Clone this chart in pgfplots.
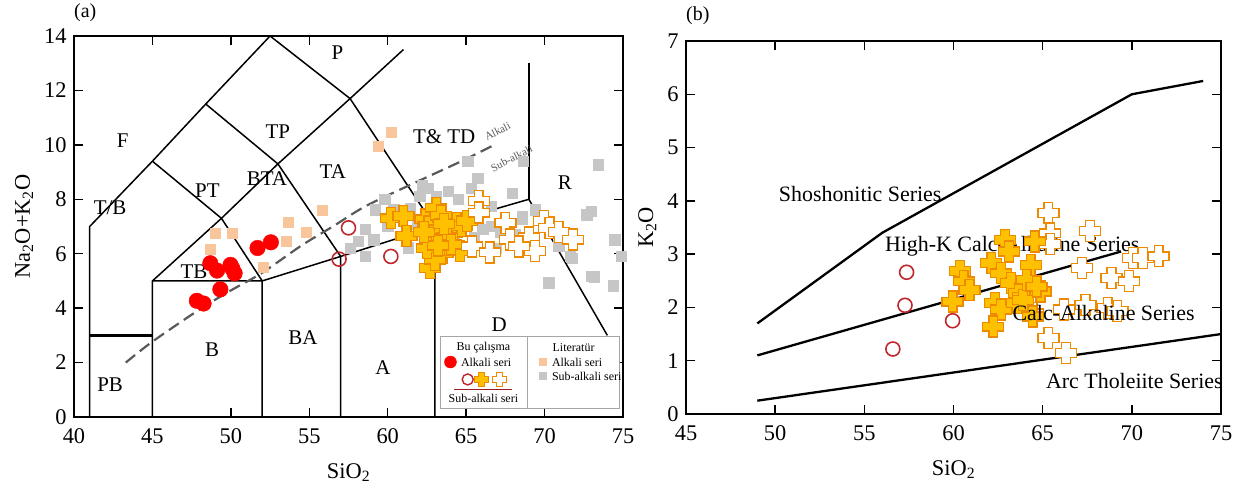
\documentclass[border=0pt]{standalone}
\usepackage{fontspec}
\setmainfont{Liberation Serif}
\usepackage{pgfplots}
\pgfplotsset{compat=1.18}

\definecolor{redfill}{HTML}{FF0000}
\definecolor{darkred}{HTML}{C0262D}
\definecolor{peach}{HTML}{F8C69A}
\definecolor{lgray}{HTML}{C6C6C6}
\definecolor{gold}{HTML}{FFC000}
\definecolor{orng}{HTML}{EE8A00}
\definecolor{dashgray}{HTML}{595959}

\pgfdeclareplotmark{rplus}{%
  \pgfsetcornersarced{\pgfpoint{0.27\pgfplotmarksize}{0.27\pgfplotmarksize}}%
  \pgfpathmoveto{\pgfqpoint{\pgfplotmarksize}{0pt}}%
  \pgfpathlineto{\pgfqpoint{\pgfplotmarksize}{0.42\pgfplotmarksize}}%
  \pgfpathlineto{\pgfqpoint{0.42\pgfplotmarksize}{0.42\pgfplotmarksize}}%
  \pgfpathlineto{\pgfqpoint{0.42\pgfplotmarksize}{\pgfplotmarksize}}%
  \pgfpathlineto{\pgfqpoint{-0.42\pgfplotmarksize}{\pgfplotmarksize}}%
  \pgfpathlineto{\pgfqpoint{-0.42\pgfplotmarksize}{0.42\pgfplotmarksize}}%
  \pgfpathlineto{\pgfqpoint{-\pgfplotmarksize}{0.42\pgfplotmarksize}}%
  \pgfpathlineto{\pgfqpoint{-\pgfplotmarksize}{-0.42\pgfplotmarksize}}%
  \pgfpathlineto{\pgfqpoint{-0.42\pgfplotmarksize}{-0.42\pgfplotmarksize}}%
  \pgfpathlineto{\pgfqpoint{-0.42\pgfplotmarksize}{-\pgfplotmarksize}}%
  \pgfpathlineto{\pgfqpoint{0.42\pgfplotmarksize}{-\pgfplotmarksize}}%
  \pgfpathlineto{\pgfqpoint{0.42\pgfplotmarksize}{-0.42\pgfplotmarksize}}%
  \pgfpathlineto{\pgfqpoint{\pgfplotmarksize}{-0.42\pgfplotmarksize}}%
  \pgfpathclose
  \pgfusepathqfillstroke
}

\pgfplotsset{
  myaxis/.style={
    scale only axis,
    tick align=inside, major tick length=9bp,
    every tick/.style={black,line width=1.5bp},
    axis line style={line width=1.8bp},
    ticklabel style={font=\fontsize{22.5}{25}\selectfont},
    /pgf/number format/assume math mode=true,
    xticklabel style={yshift=-8bp}, yticklabel style={xshift=-4bp},
    label style={font=\fontsize{22.5}{25}\selectfont},
    xlabel style={yshift=-13bp},
    ylabel style={yshift=4bp},
    clip mode=individual,
  },
  gsq/.style={only marks, mark=square*, mark size=5.2bp, mark options={fill=lgray, draw=lgray}},
  psq/.style={only marks, mark=square*, mark size=5bp, mark options={fill=peach, draw=peach}},
  rdot/.style={only marks, mark=*, mark size=7.8bp, mark options={fill=redfill, draw=redfill}},
  ocirc/.style={only marks, mark=o, mark size=7bp, mark options={draw=darkred, line width=1.6bp, fill=white}},
  fcross/.style={only marks, mark=rplus, mark size=10.5bp, mark options={fill=gold, draw=orng, line width=1.3bp}},
  ocross/.style={only marks, mark=rplus, mark size=10.5bp, mark options={fill=white, draw=orng, line width=1.3bp}},
  tas/.style={black, line width=1.5bp, no marks},
  pt/.style={black, line width=2.3bp, no marks},
}

\begin{document}
\begin{tikzpicture}
\useasboundingbox (0,0) rectangle (1256bp,496bp);

% ---------------- (a) TAS ----------------
\begin{axis}[myaxis,
  at={(74bp,79bp)}, anchor=south west, width=549bp, height=381bp,
  xmin=40, xmax=75, ymin=0, ymax=14,
  xtick={40,45,...,75}, ytick={0,2,...,14},
  xlabel={SiO\textsubscript{2}}, ylabel={Na\textsubscript{2}O+K\textsubscript{2}O},
]
% field boundaries
\addplot[tas] coordinates {(41,0) (41,7) (45,9.4) (48.4,11.5) (52.5,14)};
\addplot[tas] coordinates {(52.5,14) (57.6,11.7) (63,7) (69,8) (74,3)};
\addplot[tas] coordinates {(57.6,11.7) (61,13.5)};
\addplot[tas] coordinates {(69,8) (69,13)};
\addplot[tas] coordinates {(45,0) (45,5) (49.4,7.3) (53,9.3) (57.6,11.7)};
\addplot[tas] coordinates {(45,9.4) (49.4,7.3) (52,5) (52,0)};
\addplot[tas] coordinates {(48.4,11.5) (53,9.3) (57,5.9) (57,0)};
\addplot[tas] coordinates {(45,5) (52,5) (57,5.9) (63,7) (63,0)};
\addplot[black, line width=3bp, no marks] coordinates {(41,3) (45,3)};
% alkaline / subalkaline
\addplot[dashgray, line width=2.2bp, dash pattern=on 12bp off 6bp, smooth, no marks] coordinates {
 (43.3,2.0) (45,2.77) (48,3.95) (50,4.65) (52,5.3) (54.5,6.3) (56.5,7.0) (58.6,7.75) (61.7,8.6) (64.7,9.4) (66.8,10.0)};
\node[rotate=27, text=dashgray, font=\fontsize{11}{12}\selectfont, inner sep=1pt] at (axis cs:67.0,10.5) {Alkali};
\node[rotate=27, text=dashgray, font=\fontsize{11}{12}\selectfont, inner sep=1pt] at (axis cs:67.9,9.5) {Sub-alkali};

% field names
\begin{scope}[every node/.style={font=\fontsize{21}{24}\selectfont}]
\node at (axis cs:43.1,10.16) {F};
\node at (axis cs:48.5,8.33) {PT};
\node at (axis cs:53.0,10.5) {TP};
\node at (axis cs:56.8,13.4) {P};
\node at (axis cs:63.6,10.3) {T\& TD};
\node at (axis cs:56.5,9.0) {TA};
\node at (axis cs:52.3,8.77) {BTA};
\node at (axis cs:42.3,7.68) {T/B};
\node at (axis cs:47.65,5.34) {TB};
\node at (axis cs:71.3,8.6) {R};
\node at (axis cs:48.8,2.49) {B};
\node at (axis cs:54.6,2.92) {BA};
\node at (axis cs:59.7,1.83) {A};
\node at (axis cs:67.1,3.4) {D};
\node at (axis cs:42.3,1.2) {PB};
\end{scope}

% literature sub-alkaline
\addplot[gsq] coordinates {
(65.1,9.39) (68.64,9.39) (73.42,9.27) (65.74,8.78) (62.58,8.41) (63.84,8.29) (65.32,8.41) (67.95,8.23)
(69.42,7.62) (72.68,7.44) (68.58,7.38) (62.05,8.11) (61.42,7.68) (60.37,7.62) (59.21,7.62) (58.58,6.89)
(59.11,6.52) (58.58,5.91) (61.32,6.22) (66.05,6.89) (66.58,7.74) (71.63,5.91) (73.0,5.18) (70.26,4.94)
(74.37,4.82) (74.47,6.52) (66.64,7.0) (68.57,7.26) (72.96,7.57) (71.78,5.84) (73.17,5.16) (74.88,5.9)
(57.6,6.2) (58.1,6.45) (60.0,7.0) (61.9,7.1) (64.2,6.6) (65.5,6.6) (67.2,6.8) (68.1,6.7) (66.9,6.2)
(70.9,6.3) (62.2,8.5) (63.1,8.1) (64.5,8.0) (59.8,8.0)};
% literature alkaline
\addplot[psq] coordinates {
(49.0,6.77) (50.09,6.77) (48.69,6.15) (53.63,7.14) (53.52,6.46) (52.08,5.51) (55.8,7.6) (54.8,6.8)
(59.38,9.94) (60.25,10.48)};
% this study sub-alkaline
\addplot[fcross] coordinates {
(60.2,7.3) (61.0,7.38) (61.2,6.65) (62.4,7.26) (62.6,7.0) (63.1,7.69) (63.4,7.4) (62.8,6.52) (63.3,6.89)
(64.07,6.77) (64.4,7.13) (64.7,7.01) (65.05,7.2) (64.6,6.09) (63.5,6.02) (62.7,5.47) (63.0,5.78)
(63.9,6.33) (63.8,6.6) (64.05,6.34) (62.5,6.2) (63.2,6.3) (62.3,6.8) (63.6,7.1)};
\addplot[ocross] coordinates {
(65.8,7.94) (65.8,7.51) (65.36,6.27) (66.5,6.05) (67.5,7.14) (67.8,6.52) (69.0,6.6) (69.4,6.1)
(68.35,6.27) (69.96,7.2) (70.3,6.95) (70.9,6.8) (71.8,6.52)};
\addplot[ocirc] coordinates {(57.5,6.95) (56.9,5.8) (60.2,5.9)};
% this study alkaline
\addplot[rdot] coordinates {
(48.69,5.65) (49.12,5.38) (49.98,5.59) (50.24,5.28) (49.33,4.69) (47.83,4.27) (48.26,4.17)
(51.70,6.21) (52.55,6.42) (50.1,5.45)};

% legend
\draw[gray!70, line width=1.2bp, fill=white] (axis cs:63.35,0.3) rectangle (axis cs:74.8,2.95);
\draw[gray!70, line width=1.2bp] (axis cs:68.9,0.3) -- (axis cs:68.9,2.95);
\begin{scope}[every node/.style={font=\fontsize{12}{13}\selectfont}]
\node at (axis cs:66.1,2.55) {Bu çalışma};
\node at (axis cs:71.85,2.55) {Literatür};
\node[anchor=west] at (axis cs:64.45,2.02) {Alkali seri};
\node[anchor=west] at (axis cs:70.25,2.02) {Alkali seri};
\node[anchor=west] at (axis cs:70.25,1.5) {Sub-alkali seri};
\node at (axis cs:66.1,0.68) {Sub-alkali seri};
\end{scope}
\draw[darkred!80!black, line width=1bp] (axis cs:64.25,1.0) -- (axis cs:67.95,1.0);
\addplot[only marks, mark=*, mark size=6bp, mark options={fill=redfill, draw=redfill}] coordinates {(64.0,2.02)};
\addplot[only marks, mark=o, mark size=5.5bp, mark options={draw=darkred, line width=1.4bp, fill=white}] coordinates {(65.1,1.38)};
\addplot[only marks, mark=rplus, mark size=7bp, mark options={fill=gold, draw=orng, line width=1bp}] coordinates {(66.0,1.38)};
\addplot[only marks, mark=rplus, mark size=7bp, mark options={fill=white, draw=orng, line width=1bp}] coordinates {(67.1,1.38)};
\addplot[only marks, mark=square*, mark size=3.5bp, mark options={fill=peach, draw=peach}] coordinates {(69.85,2.05)};
\addplot[only marks, mark=square*, mark size=3.5bp, mark options={fill=lgray, draw=lgray}] coordinates {(69.85,1.52)};
\end{axis}

% ---------------- (b) K2O vs SiO2 ----------------
\begin{axis}[myaxis,
  at={(686bp,82bp)}, anchor=south west, width=535bp, height=373bp,
  xmin=45, xmax=75, ymin=0, ymax=7,
  xtick={45,50,...,75}, ytick={0,1,...,7},
  xlabel={SiO\textsubscript{2}}, ylabel={K\textsubscript{2}O},
]
\addplot[pt] coordinates {(49,1.7) (56,3.4) (70,6.0) (74,6.25)};
\addplot[pt] coordinates {(49,1.1) (69.4,3.05)};
\addplot[pt] coordinates {(49,0.25) (75,1.5)};
\begin{scope}[every node/.style={font=\fontsize{22}{24}\selectfont, anchor=west, inner sep=0pt}]
\node at (axis cs:50.2,4.12) {Shoshonitic Series};
\node at (axis cs:56.15,3.14) {High-K Calc-Alkaline Series};
\node[anchor=east] at (axis cs:75.1,0.61) {Arc Tholeiite Series};
\end{scope}
\addplot[ocross] coordinates {
(65.32,3.77) (65.43,3.39) (65.43,3.19) (67.64,3.43) (67.2,2.74) (68.86,2.55) (69.85,2.49) (70.07,2.93)
(70.62,2.93) (71.5,2.96) (65.32,1.43) (66.32,1.14) (66.2,1.96) (67.4,2.05) (68.64,1.99) (69.19,1.93)
(64.44,1.89)};
\addplot[fcross] coordinates {
(60.35,2.68) (60.57,2.49) (60.9,2.33) (59.95,2.11) (62.89,3.27) (63.11,3.05) (62.12,2.83) (62.67,2.64)
(63.22,2.46) (64.55,3.24) (64.33,2.8) (64.22,2.39) (64.88,2.3) (63.67,2.27) (62.34,2.08) (62.67,1.96)
(63.56,2.08) (62.23,1.64) (64.44,1.83) (63.89,2.14) (64.1,2.52) (64.66,2.39)};
\addplot[ocirc] coordinates {(57.37,2.66) (57.28,2.04) (59.95,1.75) (56.6,1.22)};
\node[font=\fontsize{22}{24}\selectfont, anchor=west, inner sep=0pt] at (axis cs:63.3,1.89) {Calc-Alkaline Series};
\end{axis}

\node[anchor=west, font=\fontsize{20}{22}\selectfont, inner sep=0pt] at (74bp,483bp) {(a)};
\node[anchor=west, font=\fontsize{20}{22}\selectfont, inner sep=0pt] at (686bp,480bp) {(b)};
\end{tikzpicture}
\end{document}
